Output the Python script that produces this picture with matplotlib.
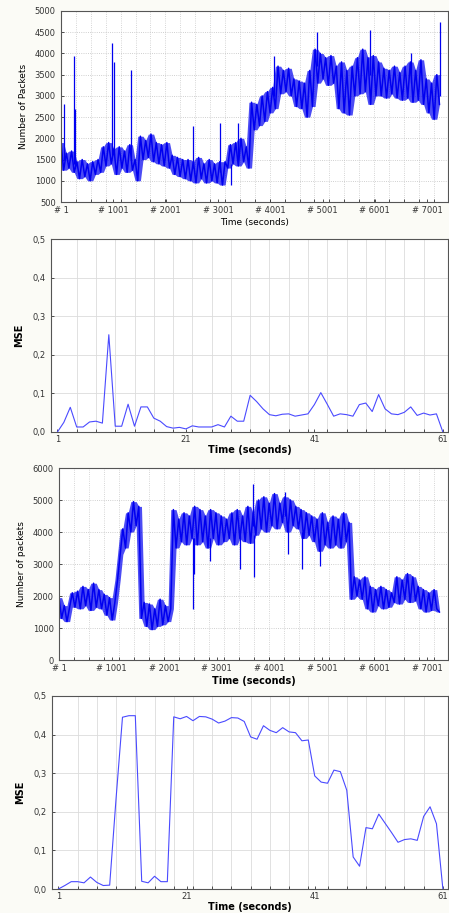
import numpy as np
import matplotlib.pyplot as plt
from matplotlib.ticker import FuncFormatter

# ---- data ----
step = 50.6  # case spacing of the readings for the packet traces

# packets per second, trace 1 (readings alternate top / bottom of the noisy band)
pkt1 = [1900, 1250, 1650, 1300, 1700, 1200,
        1450, 1050, 1500, 1100, 1400, 1000, 1450, 1150, 1500,
        1200, 1800, 1350,
        1900, 1400,
        1750, 1150, 1800, 1300, 1700, 1200, 1850, 1250,
        1500, 1000,
        2050, 1500, 1950, 1550, 2100, 1450, 1900,
        1400, 1850, 1350, 1900, 1300,
        1600, 1150, 1550, 1100, 1500, 1050,
        1500, 1000, 1450, 950, 1550, 1050, 1400, 950, 1500, 1000, 1400, 950, 1450, 900, 1450,
        1300, 1850, 1400, 1900, 1350, 2000, 1450, 1800, 1300,
        2850, 2200, 2800, 2300, 3000, 2400,
        3100, 2600, 3200, 2700,
        3700, 3050, 3600, 3100, 3650, 3000,
        3400, 2750, 3350, 2700, 3300, 2500, 3600, 2750,
        4100, 3300, 4000, 3400, 3900, 3250, 3950, 3300,
        3700, 2700, 3800, 2600, 3600, 2550, 3700,
        3000, 3900, 3050, 4100, 3100, 3900, 2800, 3950, 3000, 3800,
        3000, 3650, 2950, 3600, 3050, 3700, 2950,
        3550, 2900, 3700, 2950, 3800, 2850, 3600, 2900, 3850, 2800,
        3400, 2600, 3300, 2450, 3500, 2800]
# isolated spikes: case, from, to
spk1_case = [64, 253, 274, 983, 1013, 1347, 2533, 3039, 3249, 3388, 4072, 4898, 5916, 6686, 7253]
spk1_lo = [1500, 1400, 1300, 1600, 1600, 1500, 1300, 1200, 900, 1500, 3000, 3700, 3500, 3300, 3000]
spk1_hi = [2800, 3950, 2700, 4250, 3800, 3600, 2300, 2350, 1400, 2350, 3950, 4500, 4550, 4000, 4750]

# MSE, experiment 1
mse1 = [0.0, 0.025, 0.064, 0.013, 0.013, 0.026, 0.028, 0.023, 0.252, 0.015,
        0.015, 0.072, 0.015, 0.065, 0.065, 0.036, 0.028, 0.014, 0.010, 0.012,
        0.008, 0.016, 0.013, 0.013, 0.013, 0.019, 0.013, 0.041, 0.028, 0.028,
        0.095, 0.079, 0.060, 0.045, 0.042, 0.046, 0.047, 0.041, 0.044, 0.047,
        0.071, 0.102, 0.072, 0.041, 0.047, 0.045, 0.041, 0.071, 0.075, 0.053,
        0.097, 0.060, 0.047, 0.045, 0.051, 0.065, 0.043, 0.049, 0.044, 0.047,
        0.0]

# packets per second, trace 2
pkt2 = [1950, 1300, 1700, 1200, 1650,
        2100, 1650, 2150, 1600, 2300, 1700, 2200, 1550, 2400, 1650, 2200, 1600,
        2050, 1400, 1950, 1250,
        1800, 2500, 3300,
        4100, 3500,
        4600, 4000, 4950, 4200,
        4800,
        1300, 1800, 1050, 1750, 950, 1600, 1050, 1900, 1100, 1700, 1200,
        1600, 4700, 3500, 4400, 3700, 4600,
        3600, 4500, 3800, 4800, 3600, 4700, 3700, 4500,
        3500, 4700, 3800, 4600, 3600, 4500, 3700, 4400, 3800, 4600,
        3600, 4700, 3800, 4500, 3700, 4800, 3650, 4600, 3900, 5000,
        4100, 5100, 4000, 4900, 4200, 5200, 4100, 4900, 4300, 5100, 4000, 5000, 4200, 4800, 4100,
        4700, 3800, 4600, 3900, 4500, 3700,
        4400, 3400, 4600, 3600, 4300, 3500, 4500, 3600, 4400, 3500, 4600, 3700,
        4300,
        1900, 2600, 2000, 2500, 1900, 2600,
        1600, 2300, 1500, 2200, 1700, 2300, 1600, 2200, 1650, 2100,
        1800, 2600, 1750, 2500, 1900, 2700, 1800, 2600, 1850,
        2300, 1600, 2200, 1500, 2100, 1550, 2200, 1600, 1500]
spk2_case = [2557, 2576, 2874, 3441, 3699, 3718, 4301, 4365, 4619, 4968]
spk2_lo = [1600, 2700, 3100, 2850, 4200, 2600, 4500, 3300, 2850, 2950]
spk2_hi = [3800, 3800, 3800, 3900, 5500, 3900, 5250, 4200, 4000, 3800]

# MSE, experiment 2
mse2 = [0.0, 0.009, 0.019, 0.019, 0.016, 0.031, 0.017, 0.009, 0.010, 0.235,
        0.445, 0.449, 0.449, 0.020, 0.016, 0.033, 0.019, 0.019, 0.446, 0.441,
        0.447, 0.436, 0.447, 0.446, 0.440, 0.430, 0.435, 0.444, 0.443, 0.434,
        0.394, 0.388, 0.423, 0.411, 0.405, 0.418, 0.407, 0.405, 0.384, 0.386,
        0.293, 0.277, 0.274, 0.308, 0.304, 0.256, 0.083, 0.059, 0.159, 0.156,
        0.194, 0.170, 0.146, 0.121, 0.128, 0.130, 0.126, 0.188, 0.213, 0.169,
        0.0]

case_ticks = [1, 1001, 2001, 3001, 4001, 5001, 6001, 7001]
case_labels = ['# ' + str(c) for c in case_ticks]
sec_ticks = [1, 21, 41, 61]

W, H = 449, 913
fig = plt.figure(figsize=(W / 100, H / 100), dpi=100)
fig.patch.set_facecolor('#fbfbf6')


def box(l, t, r, b):
    return [l / W, 1 - b / H, (r - l) / W, (b - t) / H]

blue = '#0000f0'
light = '#4a4aff'
tick_fs = 6


def style(ax):
    ax.set_facecolor('white')
    for s in ax.spines.values():
        s.set_color('#555555')
        s.set_linewidth(0.8)
    ax.tick_params(axis='both', which='both', direction='in', length=2.5, width=0.6,
                   labelsize=tick_fs, colors='#333333', pad=2)
    ax.tick_params(axis='y', which='both', pad=3.8)
    ax.set_axisbelow(True)


def comma(v, pos):
    return ('%.1f' % v).replace('.', ',')


def packets(ax, series, sc, slo, shi, ylim, ystep, ylabel, xbold):
    x = np.arange(len(series)) * step + 1
    s = np.array(series)
    # band covered by the noisy trace: spread of each reading and its neighbours
    p = np.concatenate([s[:1], s, s[-1:]])
    top = np.maximum(np.maximum(p[:-2], p[1:-1]), p[2:])
    bot = np.minimum(np.minimum(p[:-2], p[1:-1]), p[2:])
    ax.fill_between(x, bot, top, color=blue, lw=0, alpha=0.7)
    ax.plot(x, s, color=blue, lw=1.1)
    ax.vlines(sc, slo, shi, color=blue, lw=0.9)
    ax.set_xlim(1, 7400)
    ax.set_ylim(*ylim)
    ax.set_yticks(np.arange(ylim[0], ylim[1] + 1, ystep))
    ax.set_xticks(case_ticks)
    ax.set_xticklabels(case_labels)
    ax.set_xticks(np.arange(1, 7400, 285), minor=True)
    style(ax)
    ax.tick_params(axis='x', which='major', pad=3.2)
    ax.grid(True, which='major', axis='y', color='#c0c0c0', linestyle=':', linewidth=0.6)
    ax.grid(True, which='minor', axis='x', color='#c8c8c8', linestyle=':', linewidth=0.6)
    ax.set_ylabel(ylabel, fontsize=6.5, labelpad=5)
    ax.set_xlabel('Time (seconds)', fontsize=7 if xbold else 6.5,
                  fontweight='bold' if xbold else 'normal', labelpad=1.5)


def mse(ax, vals):
    x = np.arange(1, len(vals) + 1)
    ax.plot(x, vals, color=light, lw=0.8)
    ax.set_xlim(0, 61.8)
    ax.set_ylim(0, 0.5)
    ax.set_yticks(np.arange(0, 0.51, 0.1))
    ax.yaxis.set_major_formatter(FuncFormatter(comma))
    ax.set_xticks(sec_ticks)
    ax.set_xticks(np.arange(1, 62, 3), minor=True)
    style(ax)
    ax.grid(True, which='major', axis='y', color='#dcdcdc', linestyle='-', linewidth=0.6)
    ax.grid(True, which='minor', axis='x', color='#dcdcdc', linestyle='-', linewidth=0.6)
    ax.set_ylabel('MSE', fontsize=7, fontweight='bold', labelpad=6)
    ax.set_xlabel('Time (seconds)', fontsize=7, fontweight='bold', labelpad=1)


ax1 = fig.add_axes(box(61, 11, 448, 202))
packets(ax1, pkt1, spk1_case, spk1_lo, spk1_hi, (500, 5000), 500, 'Number of Packets', False)

ax2 = fig.add_axes(box(51, 239, 448, 432))
mse(ax2, mse1)

ax3 = fig.add_axes(box(59, 468, 448, 660))
packets(ax3, pkt2, spk2_case, spk2_lo, spk2_hi, (0, 6000), 1000, 'Number of packets', True)

ax4 = fig.add_axes(box(52, 696, 448, 889))
mse(ax4, mse2)

fig.savefig('out.png', dpi=100, facecolor=fig.get_facecolor())
